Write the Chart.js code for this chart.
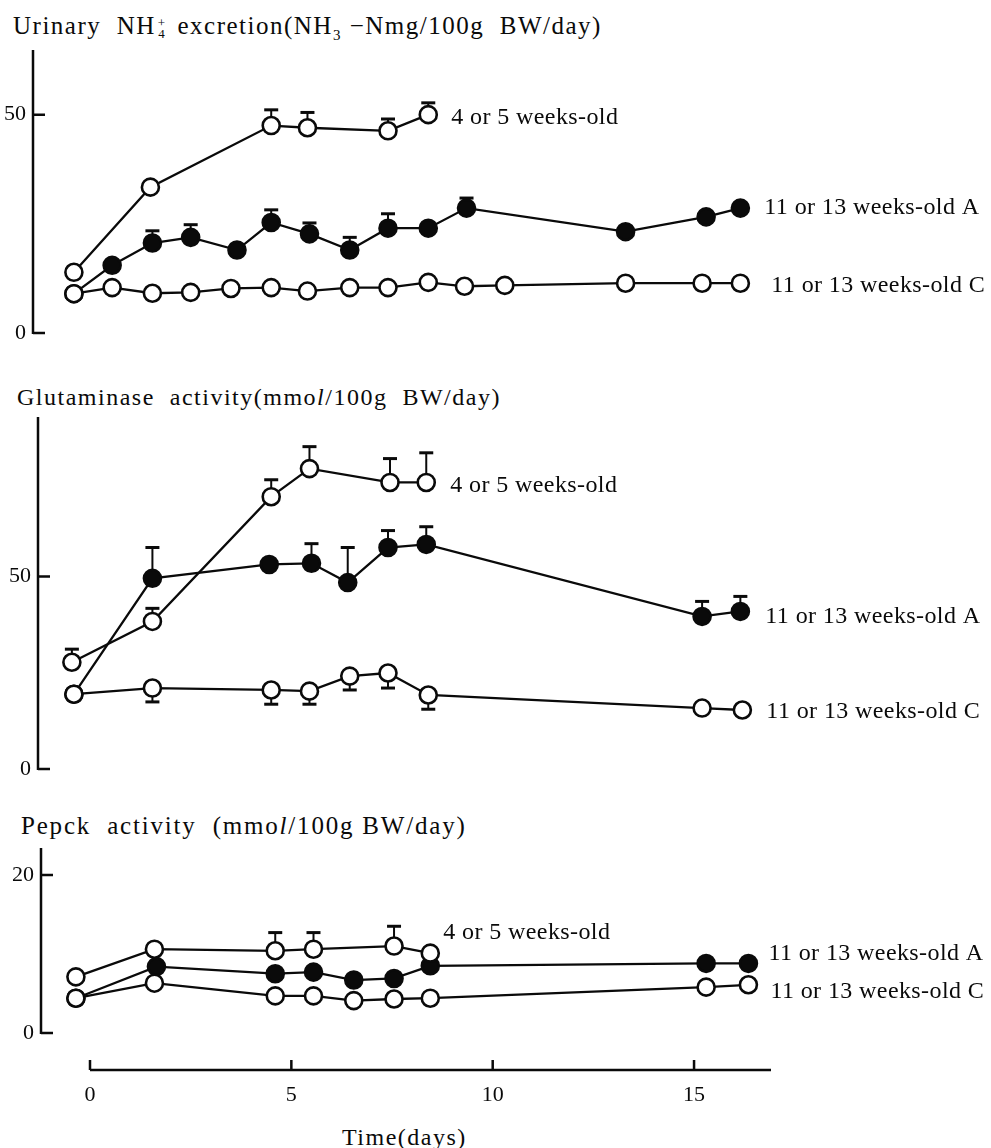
<!DOCTYPE html>
<html>
<head>
<meta charset="utf-8">
<script src="https://cdn.jsdelivr.net/npm/chart.js@4.4.1/dist/chart.umd.min.js"></script>
<style>
body { margin: 0; background: #fff; width: 991px; height: 1148px; position: relative; overflow: hidden;
       font-family: "Liberation Serif", "DejaVu Serif", serif; color: #0a0a0a; }
canvas { position: absolute; left: 0; }
.ttl { position: absolute; font-size: 24px; line-height: 24px; letter-spacing: 1.5px; white-space: nowrap; }
.ss { display: inline-block; vertical-align: middle; font-size: 13px; line-height: 11px; text-align: center; margin: 0 3px 0 2px; }
.ss span { display: block; }
sub { font-size: 15px; line-height: 0; }
</style>
</head>
<body>
<div class="ttl" style="left:13px;top:14px;font-size:25px">Urinary&nbsp; NH<span class="ss"><span>+</span><span>4</span></span> excretion(NH<sub>3</sub>&nbsp;−Nmg/100g&nbsp; BW/day)</div>
<div class="ttl" style="left:17px;top:385px">Glutaminase&nbsp; activity(mmo<i>l</i>/100g&nbsp; BW/day)</div>
<div class="ttl" style="left:21px;top:814px;font-size:25px;letter-spacing:1.8px">Pepck&nbsp; activity&nbsp; (mmo<i>l</i>/100g BW/day)</div>
<div class="ttl" style="left:342px;top:1125px">Time(days)</div>

<canvas id="nh4" width="991" height="345" style="top:0"></canvas>
<canvas id="glut" width="991" height="420" style="top:360px"></canvas>
<canvas id="pepck" width="991" height="368" style="top:780px"></canvas>

<script>
// ---- values (x = days) ----
var seriesNames = ["4 or 5 weeks-old", "11 or 13 weeks-old A", "11 or 13 weeks-old C"];
var dayTicks = [0, 5, 10, 15];

// Urinary NH4+ excretion
var nh4YoungDays = [-0.4, 1.5, 4.5, 5.4, 7.4, 8.4];
var nh4YoungVals = [13.9, 33.4, 47.5, 47.0, 46.3, 50.0];
var nh4YoungHi   = [null, null, 51.1, 50.5, 49.0, 52.7];
var nh4ADays = [-0.4, 0.55, 1.55, 2.5, 3.65, 4.5, 5.45, 6.45, 7.4, 8.4, 9.35, 13.3, 15.3, 16.15];
var nh4AVals = [9.0, 15.5, 20.6, 21.9, 19.0, 25.3, 22.7, 19.0, 24.0, 24.0, 28.6, 23.2, 26.6, 28.6];
var nh4AHi   = [null, null, 23.4, 24.8, null, 28.2, 25.2, 21.9, 27.3, null, 30.9, null, null, null];
var nh4CDays = [-0.4, 0.55, 1.55, 2.5, 3.5, 4.5, 5.4, 6.45, 7.4, 8.4, 9.3, 10.3, 13.3, 15.2, 16.15];
var nh4CVals = [9.0, 10.4, 9.1, 9.3, 10.2, 10.4, 9.6, 10.4, 10.4, 11.6, 10.7, 10.9, 11.4, 11.4, 11.4];
var nh4Ticks = [0, 50];

// Glutaminase activity
var glutYoungDays = [-0.45, 1.55, 4.5, 5.45, 7.45, 8.35];
var glutYoungVals = [27.7, 38.3, 70.7, 78.0, 74.4, 74.4];
var glutYoungHi   = [31.1, 41.7, 75.1, 83.7, 80.6, 82.1];
var glutADays = [-0.4, 1.55, 4.45, 5.5, 6.4, 7.4, 8.35, 15.2, 16.15];
var glutAVals = [19.4, 49.5, 53.1, 53.4, 48.4, 57.5, 58.3, 39.6, 40.9];
var glutAHi   = [null, 57.5, null, 58.5, 57.5, 61.9, 62.9, 43.5, 44.8];
var glutCDays = [-0.4, 1.55, 4.5, 5.45, 6.45, 7.4, 8.4, 15.2, 16.2];
var glutCVals = [19.4, 21.0, 20.5, 20.2, 24.1, 24.9, 19.2, 15.8, 15.3];
var glutCLo   = [null, 17.4, 16.8, 16.8, 20.5, 21.0, 15.5, null, null];
var glutTicks = [0, 50];

// Pepck activity
var pepYoungDays = [-0.35, 1.6, 4.6, 5.55, 7.55, 8.45];
var pepYoungVals = [7.1, 10.6, 10.4, 10.6, 11.0, 10.1];
var pepYoungHi   = [null, null, 12.7, 12.7, 13.5, null];
var pepADays = [-0.35, 1.65, 4.6, 5.55, 6.55, 7.55, 8.45, 15.3, 16.35];
var pepAVals = [4.4, 8.4, 7.5, 7.7, 6.7, 6.9, 8.5, 8.8, 8.8];
var pepCDays = [-0.35, 1.6, 4.6, 5.55, 6.55, 7.55, 8.45, 15.3, 16.35];
var pepCVals = [4.4, 6.3, 4.7, 4.7, 4.1, 4.3, 4.4, 5.8, 6.1];
var pepTicks = [0, 20];

var ink = "#0a0a0a";
var serif = '"Liberation Serif", "DejaVu Serif", serif';
var pxPerDay = 40.27, dayZeroPx = 90, plotRight = 771;

function pts(days, vals) {
    return days.map(function (d, i) { return {x: d, y: vals[i]}; });
}

function series(days, vals, filled, extra) {
    var ds = {
        data: pts(days, vals),
        borderColor: ink,
        borderWidth: 2.3,
        pointRadius: 8.5,
        pointBorderWidth: 2.6,
        pointBorderColor: ink,
        pointBackgroundColor: filled ? ink : "#fff",
        tension: 0,
        clip: false
    };
    for (var k in extra) ds[k] = extra[k];
    return ds;
}

// axis lines, inward ticks, error bars and end labels
var paperPlugin = {
    id: "paper",
    beforeDatasetsDraw: function (chart) {
        var ctx = chart.ctx, a = chart.chartArea, x = chart.scales.x, y = chart.scales.y;
        var o = chart.options.plugins.paper;
        ctx.save();
        ctx.strokeStyle = ink;
        ctx.lineWidth = 2.5;
        var y0 = y.getPixelForValue(0);
        ctx.beginPath();
        ctx.moveTo(a.left, a.top);
        ctx.lineTo(a.left, y0 + 1);
        o.yTicks.forEach(function (v) {
            var p = y.getPixelForValue(v);
            ctx.moveTo(a.left, p);
            ctx.lineTo(a.left + 12, p);
        });
        ctx.stroke();

        if (o.xAxisGap) {
            var ya = y0 + o.xAxisGap;
            ctx.beginPath();
            ctx.moveTo(x.getPixelForValue(0), ya);
            ctx.lineTo(a.right, ya);
            dayTicks.forEach(function (d) {
                var p = x.getPixelForValue(d);
                ctx.moveTo(p, ya);
                ctx.lineTo(p, ya - 10);
            });
            ctx.stroke();
        }

        ctx.lineWidth = 2;
        chart.data.datasets.forEach(function (ds, i) {
            var meta = chart.getDatasetMeta(i);
            ["hi", "lo"].forEach(function (k) {
                if (!ds[k]) return;
                ds[k].forEach(function (v, j) {
                    if (v == null) return;
                    var pt = meta.data[j], p = y.getPixelForValue(v);
                    ctx.beginPath();
                    ctx.moveTo(pt.x, pt.y);
                    ctx.lineTo(pt.x, p);
                    ctx.stroke();
                    ctx.beginPath();
                    ctx.lineWidth = 3;
                    ctx.moveTo(pt.x - 7, p);
                    ctx.lineTo(pt.x + 7, p);
                    ctx.stroke();
                    ctx.lineWidth = 2;
                });
            });
        });
        ctx.restore();
    },
    afterDatasetsDraw: function (chart) {
        var ctx = chart.ctx;
        ctx.save();
        ctx.fillStyle = ink;
        ctx.font = "24px " + serif;
        ctx.letterSpacing = "0.4px";
        ctx.textBaseline = "middle";
        chart.data.datasets.forEach(function (ds, i) {
            var meta = chart.getDatasetMeta(i);
            var last = meta.data[meta.data.length - 1];
            ctx.fillText(ds.label, last.x + ds.labelDx, last.y + ds.labelDy);
        });
        ctx.restore();
    }
};

function panel(id, datasets, yTicks, yMax, yAxisPx, pad, showX) {
    return new Chart(document.getElementById(id), {
        type: "line",
        data: {datasets: datasets},
        plugins: [paperPlugin],
        options: {
            responsive: false,
            animation: false,
            events: [],
            layout: {padding: {left: 0, right: 991 - plotRight, top: pad[0], bottom: pad[1]}},
            plugins: {
                legend: {display: false},
                tooltip: {enabled: false},
                paper: {yTicks: yTicks, xAxisGap: showX ? 37 : 0}
            },
            scales: {
                x: {
                    type: "linear",
                    min: (yAxisPx - dayZeroPx) / pxPerDay,
                    max: (plotRight - dayZeroPx) / pxPerDay,
                    display: showX,
                    grid: {display: false, drawTicks: false},
                    border: {display: false},
                    afterBuildTicks: function (s) { s.ticks = dayTicks.map(function (v) { return {value: v}; }); },
                    afterFit: function (s) {
                        s.paddingLeft = 0; s.paddingRight = 0;
                        if (showX) s.height = 115;
                    },
                    ticks: {color: ink, font: {family: serif, size: 22}, padding: 49, maxRotation: 0, autoSkip: false}
                },
                y: {
                    min: 0,
                    max: yMax,
                    grid: {display: false, drawTicks: false},
                    border: {display: false},
                    afterBuildTicks: function (s) { s.ticks = yTicks.map(function (v) { return {value: v}; }); },
                    afterFit: function (s) {
                        s.width = yAxisPx;
                        s.paddingTop = 0; s.paddingBottom = 0;
                    },
                    ticks: {color: ink, font: {family: serif, size: 22}, padding: 7}
                }
            }
        }
    });
}

panel("nh4", [
    series(nh4YoungDays, nh4YoungVals, false, {label: seriesNames[0], hi: nh4YoungHi, labelDx: 23, labelDy: 3}),
    series(nh4CDays, nh4CVals, false, {label: seriesNames[2], labelDx: 31, labelDy: 2}),
    series(nh4ADays, nh4AVals, true, {label: seriesNames[1], hi: nh4AHi, labelDx: 24, labelDy: 0})
], nh4Ticks, 64.8, 33, [50, 12], false);

panel("glut", [
    series(glutYoungDays, glutYoungVals, false, {label: seriesNames[0], hi: glutYoungHi, labelDx: 24, labelDy: 3}),
    series(glutCDays, glutCVals, false, {label: seriesNames[2], lo: glutCLo, labelDx: 24, labelDy: 2}),
    series(glutADays, glutAVals, true, {label: seriesNames[1], hi: glutAHi, labelDx: 25, labelDy: 5})
], glutTicks, 91.4, 38, [57, 10], false);

panel("pepck", [
    series(pepYoungDays, pepYoungVals, false, {label: seriesNames[0], hi: pepYoungHi, labelDx: 13, labelDy: -20}),
    series(pepCDays, pepCVals, false, {label: seriesNames[2], labelDx: 22, labelDy: 7}),
    series(pepADays, pepAVals, true, {label: seriesNames[1], labelDx: 20, labelDy: -10})
], pepTicks, 23.4, 41, [68, 0], true);
</script>
</body>
</html>
